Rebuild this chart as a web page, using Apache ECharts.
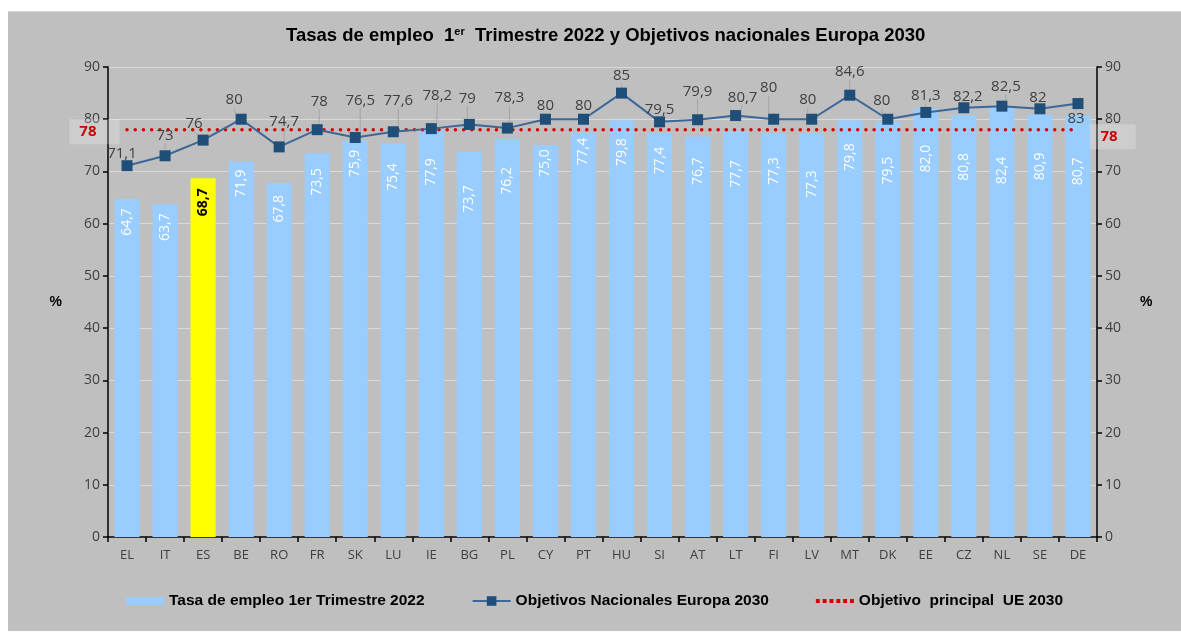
<!DOCTYPE html>
<html>
<head>
<meta charset="utf-8">
<script src="https://cdn.jsdelivr.net/npm/echarts@6/dist/echarts.min.js"></script>
<style>
html,body{margin:0;padding:0;background:#fff;}
#panel{position:absolute;left:8px;top:11px;width:1173px;height:619px;background:#bfbfbf;border-top:1px solid #d6d6d6;}
#chart{position:absolute;left:0;top:0;width:1181px;height:632px;}
</style>
</head>
<body>
<div id="panel"></div>
<div id="chart"></div>
<script>
const paises = ['EL','IT','ES','BE','RO','FR','SK','LU','IE','BG','PL','CY','PT','HU','SI','AT','LT','FI','LV','MT','DK','EE','CZ','NL','SE','DE'];
const tasaEmpleo = [64.7,63.7,68.7,71.9,67.8,73.5,75.9,75.4,77.9,73.7,76.2,75.0,77.4,79.8,77.4,76.7,77.7,77.3,77.3,79.8,79.5,82.0,80.8,82.4,80.9,80.7];
const objetivosNac = [71.1,73,76,80,74.7,78,76.5,77.6,78.2,79,78.3,80,80,85,79.5,79.9,80.7,80,80,84.6,80,81.3,82.2,82.5,82,83];
const objetivoUE = [78,78,78,78,78,78,78,78,78,78,78,78,78,78,78,78,78,78,78,78,78,78,78,78,78,78];
const destacado = 'ES';

// desplazamiento de las etiquetas de la linea (como en el original)
const labelDx = [-5,0,-9,-7,5,2,5,5,6,-2,2,0,0,0,0,0,7,-5,-4,0,-6,0,4,4,-2,-2];
const labelDy = [6,-2,2,-1,-7,-10,-19,-13,-15,-8,-12,5,5,1,6,-10,0,-13,-1,-5,0,1,7,-1,7,-3];
// distancia de la etiqueta de cada barra a su extremo
const barLabelDist = [9,9,10,8,12,15,9,20,28,33,28,4,5,18,14,21,29,24,37,23,35,36,38,50,38,42];

const coma = v => String(v).replace('.', ',');
const fuente = "'Open Sans', 'Liberation Sans', sans-serif";

let myChart = echarts.init(document.getElementById('chart'));

myChart.setOption({
    backgroundColor: 'transparent',
    textStyle: {fontFamily: fuente},
    title: {
        left: 281,
        top: 21,
        text: '{a|Tasas de empleo  1}{s|er}{a|  Trimestre 2022 y Objetivos nacionales Europa 2030}',
        textStyle: {
            rich: {
                a: {fontFamily: 'Liberation Sans', fontWeight: 'bold', fontSize: 18.5, color: '#000'},
                s: {fontFamily: 'Liberation Sans', fontWeight: 'bold', fontSize: 11, color: '#000', verticalAlign: 'top', padding: [0, 0, 9, 0]}
            }
        }
    },
    grid: {left: 108, right: 84, top: 67, bottom: 95},
    legend: {
        top: 588,
        left: 121,
        itemGap: 47,
        itemWidth: 38,
        itemHeight: 12,
        textStyle: {fontFamily: 'Liberation Sans', fontWeight: 'bold', fontSize: 15.5, color: '#000'},
        data: [
            {name: 'Tasa de empleo 1er Trimestre 2022', icon: 'path://M0,0H38V8H0Z', itemStyle: {color: '#99ccff'}},
            {name: 'Objetivos Nacionales Europa 2030'},
            {name: 'Objetivo  principal  UE 2030', icon: 'path://M0,0h4v4h-4zM7,0h4v4h-4zM14,0h4v4h-4zM21,0h4v4h-4zM28,0h4v4h-4zM35,0h4v4h-4z', itemStyle: {color: '#d00000'}}
        ]
    },
    xAxis: {
        type: 'category',
        data: paises,
        axisLine: {lineStyle: {color: '#000', width: 1.5}},
        axisTick: {show: true, length: 5, lineStyle: {color: '#000', width: 1.5}},
        axisLabel: {color: '#404040', fontSize: 13, margin: 12}
    },
    yAxis: [
        {
            type: 'value', min: 0, max: 90, interval: 10,
            name: '%', nameLocation: 'middle', nameGap: 46, nameRotate: 0,
            nameTextStyle: {fontFamily: 'Liberation Sans', fontWeight: 'bold', fontSize: 14, color: '#000'},
            axisLine: {show: true, lineStyle: {color: '#000', width: 1.5}},
            axisTick: {show: true, length: 5, lineStyle: {color: '#000', width: 1.5}},
            axisLabel: {color: '#404040', fontSize: 14, margin: 8},
            splitLine: {lineStyle: {color: '#d9d9d9', width: 1}}
        },
        {
            type: 'value', min: 0, max: 90, interval: 10, position: 'right',
            name: '%', nameLocation: 'middle', nameGap: 43, nameRotate: 0,
            nameTextStyle: {fontFamily: 'Liberation Sans', fontWeight: 'bold', fontSize: 14, color: '#000'},
            axisLine: {show: true, lineStyle: {color: '#000', width: 1.5}},
            axisTick: {show: true, length: 5, lineStyle: {color: '#000', width: 1.5}},
            axisLabel: {color: '#404040', fontSize: 14, margin: 8},
            splitLine: {show: false}
        }
    ],
    series: [
        {
            name: 'Tasa de empleo 1er Trimestre 2022',
            type: 'bar',
            barWidth: '66%',
            itemStyle: {color: '#99ccff'},
            data: tasaEmpleo.map((v, i) => {
                let item = {value: v, label: {distance: barLabelDist[i]}};
                if (paises[i] === destacado) {
                    item.itemStyle = {color: '#ffff00'};
                    item.label.color = '#000';
                    item.label.fontWeight = 'bold';
                }
                return item;
            }),
            label: {
                show: true,
                position: 'insideTop',
                rotate: 90,
                align: 'right',
                verticalAlign: 'middle',
                color: '#fff',
                fontSize: 14,
                formatter: p => p.value.toFixed(1).replace('.', ',')
            },
            z: 1
        },
        {
            name: 'Objetivo  principal  UE 2030',
            type: 'line',
            symbol: 'circle',
            symbolSize: 1,
            showSymbol: true,
            itemStyle: {color: 'rgba(0,0,0,0)'},
            lineStyle: {color: '#d00000', width: 3.5, type: [0.01, 8.2], cap: 'round'},
            data: objetivoUE.map((v, i) => {
                if (i === 0) return {value: v, label: {show: true, position: 'left', distance: 7, offset: [0, 2],
                    padding: [5, 23, 5, 10], backgroundColor: 'rgba(255,255,255,0.22)'}};
                if (i === objetivoUE.length - 1) return {value: v, label: {show: true, position: 'right', distance: 11, offset: [0, 7],
                    padding: [5, 18, 5, 11], backgroundColor: 'rgba(255,255,255,0.22)'}};
                return v;
            }),
            label: {show: false, color: '#cc0000', fontWeight: 'bold', fontSize: 15, fontFamily: fuente},
            silent: true,
            z: 2
        },
        {
            name: 'Objetivos Nacionales Europa 2030',
            type: 'line',
            symbol: 'rect',
            symbolSize: 11,
            color: '#1f4e79',
            itemStyle: {color: '#1f4e79'},
            lineStyle: {color: '#3d6699', width: 2},
            data: objetivosNac.map((v, i) => i === objetivosNac.length - 1
                ? {value: v, label: {position: 'bottom'}}
                : v),
            label: {
                show: true,
                position: 'top',
                color: '#404040',
                fontSize: 15,
                formatter: p => coma(p.value)
            },
            labelLayout: p => ({dx: labelDx[p.dataIndex], dy: labelDy[p.dataIndex]}),
            labelLine: {show: true, lineStyle: {color: '#a6a6a6', width: 1}},
            z: 3
        }
    ]
});
</script>
</body>
</html>
